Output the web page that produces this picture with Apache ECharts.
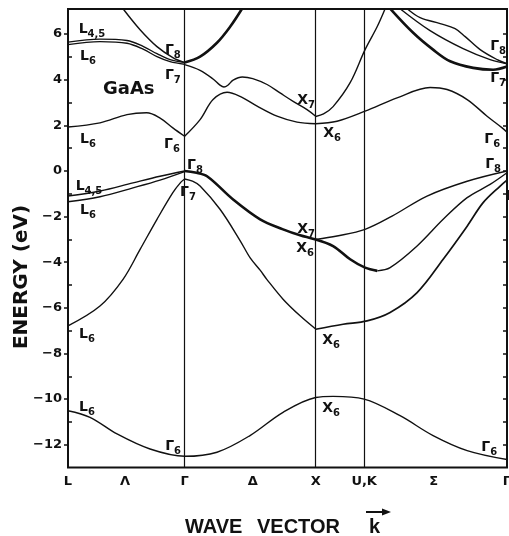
<!DOCTYPE html>
<html>
<head>
<meta charset="utf-8">
<script src="https://cdn.jsdelivr.net/npm/echarts@6/dist/echarts.min.js"></script>
<style>
  html, body { margin: 0; padding: 0; background: #fff; }
  #chart { width: 509px; height: 536px; }
</style>
</head>
<body>
<div id="chart"></div>
<script>
// symmetry points along the path, in units of 2pi/a (Gamma-X = 1)
const kPoints = [0, 0.89, 1.89, 2.26, 3.35]
const kTickValues = [0, 0.435, 0.89, 1.41, 1.89, 2.26, 2.79, 3.35]
const kTickLabels = ['L', 'Λ', 'Γ', 'Δ', 'X', 'U,K', 'Σ', 'Γ']
const energyTicks = [6, 4, 2, 0, -2, -4, -6, -8, -10, -12]
const energyMinor = [5, 3, 1, -1, -3, -5, -7, -9, -11]
const energyRight = [6, 5, 4, 3, 2, 1, 0, -1, -2, -3, -4, -5, -6, -7, -8, -9, -10, -11, -12]

// conduction bands [k, E(eV)]
const cbLowL = [[0, 1.93], [0.244, 2.11], [0.45, 2.47], [0.60, 2.55], [0.70, 2.33], [0.80, 1.89], [0.89, 1.52]]
const cbLowDelta = [[0.89, 1.52], [1.008, 2.25], [1.107, 3.13], [1.214, 3.45], [1.313, 3.27], [1.443, 2.84], [1.595, 2.40], [1.748, 2.14], [1.89, 2.07]]
const cbLowSigma = [[1.89, 2.07], [2.053, 2.18], [2.267, 2.62], [2.511, 3.20], [2.763, 3.66], [2.893, 3.57], [3.046, 3.13], [3.198, 2.40], [3.313, 1.89], [3.35, 1.70]]
const cbL45 = [[0, 5.65], [0.244, 5.78], [0.45, 5.72], [0.573, 5.46], [0.679, 5.14], [0.779, 4.88], [0.89, 4.76]]
const cbL6 = [[0, 5.54], [0.244, 5.67], [0.45, 5.60], [0.573, 5.34], [0.679, 5.01], [0.779, 4.79], [0.89, 4.68]]
const cbGammaL = [[0.42, 7.11], [0.55, 6.19], [0.679, 5.45], [0.80, 4.97], [0.89, 4.75]]
const cbGammaDelta = [[0.89, 4.75], [1.008, 5.01], [1.137, 5.62], [1.237, 6.32], [1.328, 7.11]]
const cbX7Delta = [[0.89, 4.66], [1.008, 4.41], [1.107, 4.03], [1.16, 3.76], [1.19, 3.68], [1.22, 3.76], [1.26, 3.98], [1.33, 4.12], [1.41, 4.05], [1.519, 3.79], [1.618, 3.42], [1.718, 3.05], [1.824, 2.69], [1.89, 2.40]]
const cbX7Up = [[1.89, 2.39], [1.95, 2.50], [2.023, 2.82], [2.153, 3.87], [2.267, 5.32], [2.359, 6.32], [2.42, 7.11]]
const cbTopA = [[2.588, 7.11], [2.687, 6.72], [2.84, 6.46], [2.954, 6.24], [3.031, 5.89], [3.145, 5.32], [3.275, 4.88], [3.35, 4.70]]
const cbTopB = [[2.534, 7.11], [2.763, 6.15], [3.015, 5.36], [3.221, 4.88], [3.35, 4.70]]
const cbTopC = [[2.46, 7.11], [2.634, 6.06], [2.786, 5.32], [2.916, 4.81], [3.092, 4.52], [3.244, 4.44], [3.35, 4.58]]

// valence bands
const vbL45 = [[0, -1.10], [0.244, -0.88], [0.496, -0.52], [0.702, -0.23], [0.89, 0]]
const vbL6 = [[0, -1.35], [0.244, -1.13], [0.496, -0.74], [0.702, -0.40], [0.89, -0.03]]
const vbSoL = [[0, -6.79], [0.244, -5.92], [0.42, -4.75], [0.55, -3.44], [0.679, -2.12], [0.80, -0.95], [0.86, -0.50], [0.89, -0.35]]
const vbHhDelta = [[0.89, 0], [0.97, -0.07], [1.061, -0.23], [1.26, -1.25], [1.466, -2.12], [1.641, -2.56], [1.771, -2.82], [1.89, -3.0]]
const vbSoDelta = [[0.89, -0.35], [0.95, -0.45], [1.008, -0.66], [1.16, -1.68], [1.313, -3.05], [1.389, -3.80], [1.466, -4.35], [1.517, -4.75], [1.641, -5.62], [1.771, -6.35], [1.89, -6.93]]
const vbX7Sigma = [[1.89, -3.0], [2.053, -2.85], [2.267, -2.56], [2.473, -1.98], [2.74, -1.10], [3.046, -0.45], [3.35, 0]]
const vbX6SigmaA = [[1.89, -3.0], [2.023, -3.29], [2.153, -3.87], [2.267, -4.24], [2.36, -4.38]]
const vbX6SigmaB = [[2.36, -4.38], [2.458, -4.24], [2.664, -3.29], [2.863, -2.12], [3.046, -1.17], [3.221, -0.59], [3.35, -0.08]]
const vbX6Low = [[1.89, -6.94], [2.099, -6.72], [2.282, -6.57], [2.458, -6.20], [2.664, -5.33], [2.863, -3.87], [3.046, -2.42], [3.168, -1.39], [3.298, -0.66], [3.35, -0.40]]
const vbS = [[0, -10.51], [0.168, -10.80], [0.374, -11.53], [0.626, -12.19], [0.89, -12.51], [1.137, -12.33], [1.389, -11.60], [1.641, -10.58], [1.89, -9.93], [2.023, -9.88], [2.26, -10.0], [2.534, -10.73], [2.786, -11.60], [3.046, -12.26], [3.35, -12.65]]

// level labels: [symbol, subscript, k, E]
const levelLabels = [
  ['L', '4,5', 0.183, 6.19], ['L', '6', 0.153, 5.01], ['Γ', '8', 0.80, 5.27], ['Γ', '7', 0.80, 4.18],
  ['L', '6', 0.153, 1.38], ['Γ', '6', 0.794, 1.16], ['Γ', '8', 0.969, 0.24], ['L', '4,5', 0.16, -0.68],
  ['L', '6', 0.153, -1.73], ['Γ', '7', 0.916, -0.94], ['L', '6', 0.145, -7.16], ['X', '7', 1.817, 3.09],
  ['X', '6', 2.015, 1.64], ['Γ', '8', 3.282, 5.45], ['Γ', '7', 3.282, 4.05], ['Γ', '6', 3.237, 1.38],
  ['Γ', '8', 3.244, 0.28], ['Γ', '7', 3.405, -1.12], ['X', '7', 1.817, -2.56], ['X', '6', 1.809, -3.39],
  ['X', '6', 2.008, -7.42], ['X', '6', 2.008, -10.39], ['L', '6', 0.145, -10.35], ['Γ', '6', 0.802, -12.06],
  ['Γ', '6', 3.214, -12.1]
]

const ink = '#111'
const font = 'DejaVu Sans'

const bands = [
  [cbLowL, 1.4], [cbLowDelta, 1.4], [cbLowSigma, 1.4], [cbL45, 1.4], [cbL6, 1.4],
  [cbGammaL, 1.4], [cbGammaDelta, 2.6], [cbX7Delta, 1.4], [cbX7Up, 1.4],
  [cbTopA, 1.4], [cbTopB, 1.4], [cbTopC, 2.6],
  [vbL45, 1.4], [vbL6, 1.4], [vbSoL, 1.4], [vbHhDelta, 2.6], [vbSoDelta, 1.4],
  [vbX7Sigma, 1.4], [vbX6SigmaA, 2.6], [vbX6SigmaB, 1.4], [vbX6Low, 1.7], [vbS, 1.4]
]

const series = bands.map(([data, width]) => ({
  type: 'line',
  data,
  smooth: 0.35,
  showSymbol: false,
  silent: true,
  lineStyle: { color: ink, width }
}))

series[series.length - 1].markLine = {
  silent: true,
  symbol: 'none',
  label: { show: false },
  lineStyle: { color: ink, width: 1.2, type: 'solid' },
  data: kPoints.slice(1, 4).map(k => ({ xAxis: k }))
}

series.push({
  type: 'scatter',
  symbolSize: 0,
  silent: true,
  clip: false,
  itemStyle: { color: ink, opacity: 1 },
  data: levelLabels.map(l => ({ value: [l[2], l[3]], name: '{m|' + l[0] + '}{s|' + l[1] + '}' })),
  label: {
    show: true,
    position: 'inside',
    color: ink,
    textBorderWidth: 0,
    formatter: p => p.name,
    rich: {
      m: { fontFamily: font, fontSize: 14, fontWeight: 'bold', color: ink, lineHeight: 20, textBorderWidth: 0 },
      s: { fontFamily: font, fontSize: 10, fontWeight: 'bold', color: ink, lineHeight: 10, verticalAlign: 'bottom', textBorderWidth: 0 }
    }
  }
})

const yBase = { type: 'value', min: -13, max: 7.1, splitLine: { show: false }, axisLine: { show: false } }

const option = {
  animation: false,
  backgroundColor: '#fff',
  grid: { left: 68, right: 2, top: 9, bottom: 68.5, outerBoundsMode: 'none', show: true, borderColor: ink, borderWidth: 2 },
  xAxis: {
    type: 'value', min: 0, max: 3.35,
    axisLine: { show: false }, axisTick: { show: false }, splitLine: { show: false },
    axisLabel: {
      customValues: kTickValues,
      margin: 8,
      fontFamily: font, fontSize: 13, fontWeight: 'bold', color: ink,
      formatter: v => {
        let best = 0
        kTickValues.forEach((t, i) => { if (Math.abs(t - v) < Math.abs(kTickValues[best] - v)) best = i })
        return kTickLabels[best]
      }
    }
  },
  yAxis: [
    Object.assign({}, yBase, {
      position: 'left',
      axisTick: { show: true, customValues: energyTicks, length: 4, lineStyle: { color: ink, width: 1.5 } },
      axisLabel: {
        customValues: energyTicks, margin: 6,
        fontFamily: font, fontSize: 13, fontWeight: 'bold', color: ink,
        formatter: v => String(v).replace('-', '−')
      }
    }),
    Object.assign({}, yBase, {
      position: 'left',
      axisTick: { show: true, inside: true, customValues: energyMinor, length: 4, lineStyle: { color: ink, width: 1.5 } },
      axisLabel: { show: false }
    }),
    Object.assign({}, yBase, {
      position: 'right',
      axisTick: { show: true, inside: true, customValues: energyRight, length: 4, lineStyle: { color: ink, width: 1.5 } },
      axisLabel: { show: false }
    })
  ],
  graphic: [
    { type: 'text', left: 130 - 27, top: 80, style: { text: 'GaAs', font: 'bold 18px "DejaVu Sans"', fill: ink } },
    { type: 'text', x: 22, y: 277, rotation: Math.PI / 2, style: { text: 'ENERGY (eV)', font: 'bold 20px "DejaVu Sans"', fill: ink, align: 'center', verticalAlign: 'middle' } },
    { type: 'text', x: 185, y: 527, style: { text: 'WAVE', font: 'bold 20px "Liberation Sans"', fill: ink, verticalAlign: 'middle' } },
    { type: 'text', x: 257, y: 527, style: { text: 'VECTOR', font: 'bold 20px "Liberation Sans"', fill: ink, verticalAlign: 'middle' } },
    { type: 'text', x: 369, y: 527, style: { text: 'k', font: 'bold 20px "Liberation Sans"', fill: ink, verticalAlign: 'middle' } },
    { type: 'line', shape: { x1: 366, y1: 512, x2: 384, y2: 512 }, style: { stroke: ink, lineWidth: 2 } },
    { type: 'polygon', shape: { points: [[382, 508.5], [391, 512], [382, 515.5]] }, style: { fill: ink } }
  ],
  series
}

const chart = echarts.init(document.getElementById('chart'))
chart.setOption(option)
</script>
</body>
</html>
